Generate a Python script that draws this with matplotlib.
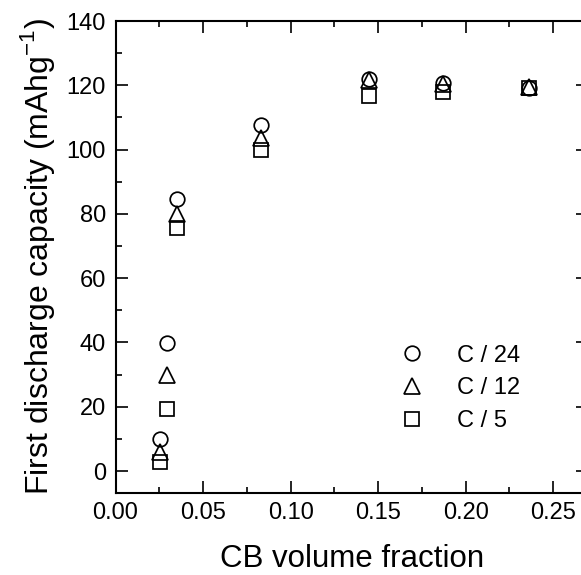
import matplotlib
matplotlib.use("Agg")
import matplotlib.pyplot as plt
from matplotlib.ticker import MultipleLocator

plt.rcParams['font.family'] = ['Liberation Sans', 'DejaVu Sans']

cb_fraction = [0.0254, 0.0292, 0.035, 0.083, 0.145, 0.187, 0.236]
cap_c24 = [9.9, 39.7, 84.5, 107.6, 122.0, 120.8, 119.3]
cap_c12 = [6.0, 29.9, 80.0, 103.5, 121.5, 120.4, 119.6]
cap_c5 = [2.9, 19.3, 75.5, 100.0, 116.6, 117.9, 119.3]
series_labels = ['C / 24', 'C / 12', 'C / 5']
xticks = [0.00, 0.05, 0.10, 0.15, 0.20, 0.25]
yticks = [0, 20, 40, 60, 80, 100, 120, 140]

W, H = 581, 575
fig = plt.figure(figsize=(W / 100, H / 100), dpi=100)
left, right, top, bottom = 115.5, 588.3, 21.0, 492.7
ax = fig.add_axes([left / W, 1 - bottom / H, (right - left) / W, (bottom - top) / H])

marker_sizes = {'o': 10.5, '^': 11.0, 's': 10.4}
mew = 1.25
for y, m, lab in zip([cap_c24, cap_c12, cap_c5], ['o', '^', 's'], series_labels):
    ax.plot(cb_fraction, y, linestyle='none', marker=m, markersize=marker_sizes[m],
            markerfacecolor='none', markeredgecolor='black', markeredgewidth=mew, label=lab)

ax.set_xlim(0, 0.27)
ax.set_ylim(-6.75, 140)
ax.set_xticks(xticks)
ax.set_xticklabels([f"{v:.2f}" for v in xticks])
ax.set_yticks(yticks)
ax.set_yticklabels([str(v) for v in yticks])
ax.xaxis.set_minor_locator(MultipleLocator(0.025))
ax.yaxis.set_minor_locator(MultipleLocator(10))
ax.tick_params(which='both', direction='in', top=True, right=True, width=1.2, labelsize=17, pad=7)
ax.tick_params(which='major', length=8.5)
ax.tick_params(which='minor', length=4.5)
for s in ax.spines.values():
    s.set_linewidth(1.5)

ax.set_xlabel('CB volume fraction', fontsize=22.5, labelpad=14)
ax.set_ylabel('First discharge capacity (mAhg$^{\\mathregular{-1}}$)', fontsize=23, labelpad=7)

leg = ax.legend(loc='upper left', bbox_to_anchor=(0.597, 0.314), frameon=False, fontsize=17,
                handlelength=1.2, handletextpad=1.3, labelspacing=0.45, borderpad=0, borderaxespad=0)

fig.savefig('out.png', dpi=100)
